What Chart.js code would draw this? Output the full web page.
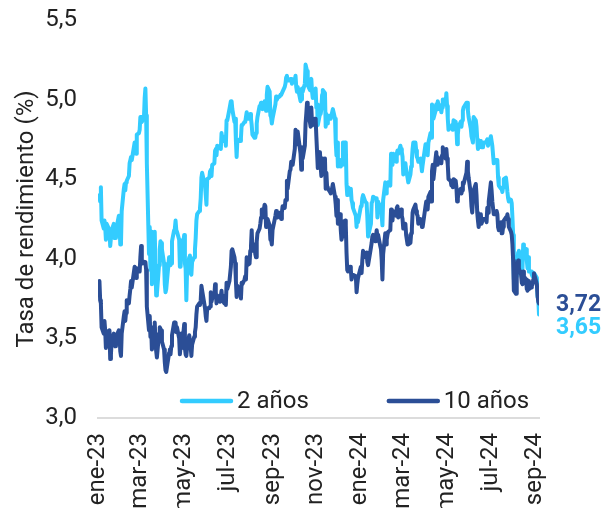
<!DOCTYPE html>
<html lang="es">
<head>
<meta charset="utf-8">
<title>Tasa de rendimiento: bonos a 2 y 10 años</title>
<script src="https://cdn.jsdelivr.net/npm/chart.js@4.4.1/dist/chart.umd.min.js"></script>
<style>
  html, body { margin: 0; padding: 0; background: #ffffff; overflow: hidden; }
  #wrap { width: 604px; height: 508px; position: relative; }
</style>
</head>
<body>
<div id="wrap"><canvas id="chart" width="604" height="508"></canvas></div>
<script>
// Trading days (one row per month)
const dates = [
  '2023-01-03','2023-01-04','2023-01-05','2023-01-06','2023-01-09','2023-01-10','2023-01-11','2023-01-12','2023-01-13','2023-01-17','2023-01-18','2023-01-19','2023-01-20','2023-01-23','2023-01-24','2023-01-25','2023-01-26','2023-01-27','2023-01-30','2023-01-31',
  '2023-02-01','2023-02-02','2023-02-03','2023-02-06','2023-02-07','2023-02-08','2023-02-09','2023-02-10','2023-02-13','2023-02-14','2023-02-15','2023-02-16','2023-02-17','2023-02-21','2023-02-22','2023-02-23','2023-02-24','2023-02-27','2023-02-28',
  '2023-03-01','2023-03-02','2023-03-03','2023-03-06','2023-03-07','2023-03-08','2023-03-09','2023-03-10','2023-03-13','2023-03-14','2023-03-15','2023-03-16','2023-03-17','2023-03-20','2023-03-21','2023-03-22','2023-03-23','2023-03-24','2023-03-27','2023-03-28','2023-03-29','2023-03-30','2023-03-31',
  '2023-04-03','2023-04-04','2023-04-05','2023-04-06','2023-04-10','2023-04-11','2023-04-12','2023-04-13','2023-04-14','2023-04-17','2023-04-18','2023-04-19','2023-04-20','2023-04-21','2023-04-24','2023-04-25','2023-04-26','2023-04-27','2023-04-28',
  '2023-05-01','2023-05-02','2023-05-03','2023-05-04','2023-05-05','2023-05-08','2023-05-09','2023-05-10','2023-05-11','2023-05-12','2023-05-15','2023-05-16','2023-05-17','2023-05-18','2023-05-19','2023-05-22','2023-05-23','2023-05-24','2023-05-25','2023-05-26','2023-05-30','2023-05-31',
  '2023-06-01','2023-06-02','2023-06-05','2023-06-06','2023-06-07','2023-06-08','2023-06-09','2023-06-12','2023-06-13','2023-06-14','2023-06-15','2023-06-16','2023-06-20','2023-06-21','2023-06-22','2023-06-23','2023-06-26','2023-06-27','2023-06-28','2023-06-29','2023-06-30',
  '2023-07-03','2023-07-05','2023-07-06','2023-07-07','2023-07-10','2023-07-11','2023-07-12','2023-07-13','2023-07-14','2023-07-17','2023-07-18','2023-07-19','2023-07-20','2023-07-21','2023-07-24','2023-07-25','2023-07-26','2023-07-27','2023-07-28','2023-07-31',
  '2023-08-01','2023-08-02','2023-08-03','2023-08-04','2023-08-07','2023-08-08','2023-08-09','2023-08-10','2023-08-11','2023-08-14','2023-08-15','2023-08-16','2023-08-17','2023-08-18','2023-08-21','2023-08-22','2023-08-23','2023-08-24','2023-08-25','2023-08-28','2023-08-29','2023-08-30','2023-08-31',
  '2023-09-01','2023-09-05','2023-09-06','2023-09-07','2023-09-08','2023-09-11','2023-09-12','2023-09-13','2023-09-14','2023-09-15','2023-09-18','2023-09-19','2023-09-20','2023-09-21','2023-09-22','2023-09-25','2023-09-26','2023-09-27','2023-09-28','2023-09-29',
  '2023-10-02','2023-10-03','2023-10-04','2023-10-05','2023-10-06','2023-10-10','2023-10-11','2023-10-12','2023-10-13','2023-10-16','2023-10-17','2023-10-18','2023-10-19','2023-10-20','2023-10-23','2023-10-24','2023-10-25','2023-10-26','2023-10-27','2023-10-30','2023-10-31',
  '2023-11-01','2023-11-02','2023-11-03','2023-11-06','2023-11-07','2023-11-08','2023-11-09','2023-11-10','2023-11-13','2023-11-14','2023-11-15','2023-11-16','2023-11-17','2023-11-20','2023-11-21','2023-11-22','2023-11-24','2023-11-27','2023-11-28','2023-11-29','2023-11-30',
  '2023-12-01','2023-12-04','2023-12-05','2023-12-06','2023-12-07','2023-12-08','2023-12-11','2023-12-12','2023-12-13','2023-12-14','2023-12-15','2023-12-18','2023-12-19','2023-12-20','2023-12-21','2023-12-22','2023-12-26','2023-12-27','2023-12-28','2023-12-29',
  '2024-01-02','2024-01-03','2024-01-04','2024-01-05','2024-01-08','2024-01-09','2024-01-10','2024-01-11','2024-01-12','2024-01-16','2024-01-17','2024-01-18','2024-01-19','2024-01-22','2024-01-23','2024-01-24','2024-01-25','2024-01-26','2024-01-29','2024-01-30','2024-01-31',
  '2024-02-01','2024-02-02','2024-02-05','2024-02-06','2024-02-07','2024-02-08','2024-02-09','2024-02-12','2024-02-13','2024-02-14','2024-02-15','2024-02-16','2024-02-20','2024-02-21','2024-02-22','2024-02-23','2024-02-26','2024-02-27','2024-02-28','2024-02-29',
  '2024-03-01','2024-03-04','2024-03-05','2024-03-06','2024-03-07','2024-03-08','2024-03-11','2024-03-12','2024-03-13','2024-03-14','2024-03-15','2024-03-18','2024-03-19','2024-03-20','2024-03-21','2024-03-22','2024-03-25','2024-03-26','2024-03-27','2024-03-28',
  '2024-04-01','2024-04-02','2024-04-03','2024-04-04','2024-04-05','2024-04-08','2024-04-09','2024-04-10','2024-04-11','2024-04-12','2024-04-15','2024-04-16','2024-04-17','2024-04-18','2024-04-19','2024-04-22','2024-04-23','2024-04-24','2024-04-25','2024-04-26','2024-04-29','2024-04-30',
  '2024-05-01','2024-05-02','2024-05-03','2024-05-06','2024-05-07','2024-05-08','2024-05-09','2024-05-10','2024-05-13','2024-05-14','2024-05-15','2024-05-16','2024-05-17','2024-05-20','2024-05-21','2024-05-22','2024-05-23','2024-05-24','2024-05-28','2024-05-29','2024-05-30','2024-05-31',
  '2024-06-03','2024-06-04','2024-06-05','2024-06-06','2024-06-07','2024-06-10','2024-06-11','2024-06-12','2024-06-13','2024-06-14','2024-06-17','2024-06-18','2024-06-20','2024-06-21','2024-06-24','2024-06-25','2024-06-26','2024-06-27','2024-06-28',
  '2024-07-01','2024-07-02','2024-07-03','2024-07-05','2024-07-08','2024-07-09','2024-07-10','2024-07-11','2024-07-12','2024-07-15','2024-07-16','2024-07-17','2024-07-18','2024-07-19','2024-07-22','2024-07-23','2024-07-24','2024-07-25','2024-07-26','2024-07-29','2024-07-30','2024-07-31',
  '2024-08-01','2024-08-02','2024-08-05','2024-08-06','2024-08-07','2024-08-08','2024-08-09','2024-08-12','2024-08-13','2024-08-14','2024-08-15','2024-08-16','2024-08-19','2024-08-20','2024-08-21','2024-08-22','2024-08-23','2024-08-26','2024-08-27','2024-08-28','2024-08-29','2024-08-30',
  '2024-09-03','2024-09-04','2024-09-05','2024-09-06'
];

// 2-year yield (%)
const yield2y = [
  4.40,4.36,4.45,4.24,4.19,4.24,4.20,4.12,4.22,4.18,4.08,4.08,4.18,4.22,4.13,4.13,4.19,4.20,4.27,4.21,
  4.09,4.10,4.30,4.44,4.47,4.43,4.48,4.49,4.52,4.60,4.62,4.64,4.62,4.73,4.69,4.66,4.78,4.79,4.81,
  4.89,4.89,4.86,4.89,5.01,5.07,4.90,4.60,4.03,4.20,3.93,4.17,3.84,3.93,4.17,3.95,3.77,3.78,3.96,4.06,4.11,4.10,4.06,
  3.97,3.84,3.79,3.81,4.01,4.00,3.96,3.97,4.11,4.18,4.19,4.24,4.18,4.17,4.12,3.95,3.95,4.07,4.04,
  4.15,3.97,3.94,3.74,3.92,4.01,4.02,3.91,3.90,3.98,4.01,4.06,4.13,4.24,4.28,4.30,4.32,4.38,4.51,4.54,4.46,4.40,
  4.34,4.50,4.51,4.55,4.56,4.52,4.59,4.60,4.68,4.69,4.65,4.71,4.70,4.69,4.79,4.74,4.74,4.77,4.71,4.87,4.87,
  4.94,4.99,4.99,4.94,4.86,4.88,4.74,4.64,4.74,4.75,4.74,4.76,4.84,4.84,4.86,4.86,4.86,4.92,4.88,4.88,
  4.91,4.88,4.84,4.78,4.76,4.76,4.79,4.85,4.89,4.96,4.96,4.98,4.96,4.94,4.99,4.99,4.93,5.03,5.08,5.05,4.90,4.89,4.85,
  4.88,4.97,5.02,5.00,5.01,5.02,5.03,5.03,5.03,5.05,5.08,5.10,5.14,5.15,5.12,5.12,5.13,5.13,5.10,5.11,
  5.12,5.15,5.08,5.05,5.08,4.99,5.00,5.07,5.05,5.10,5.22,5.20,5.18,5.09,5.06,5.11,5.13,5.05,5.01,5.05,5.07,
  4.95,4.97,4.84,4.91,4.91,4.94,5.03,5.06,5.04,4.83,4.91,4.85,4.89,4.90,4.88,4.90,4.94,4.88,4.73,4.65,4.73,
  4.58,4.62,4.58,4.59,4.59,4.73,4.73,4.72,4.47,4.40,4.45,4.43,4.44,4.37,4.35,4.32,4.27,4.20,4.27,4.23,
  4.33,4.33,4.38,4.40,4.36,4.36,4.35,4.26,4.14,4.22,4.35,4.36,4.39,4.38,4.38,4.38,4.26,4.36,4.31,4.34,4.27,
  4.21,4.37,4.48,4.41,4.44,4.47,4.48,4.46,4.66,4.59,4.59,4.66,4.61,4.66,4.68,4.66,4.71,4.69,4.67,4.64,
  4.53,4.60,4.56,4.56,4.51,4.48,4.53,4.58,4.62,4.69,4.73,4.73,4.68,4.64,4.63,4.61,4.63,4.59,4.55,4.59,
  4.72,4.70,4.68,4.65,4.73,4.79,4.76,4.97,4.96,4.88,4.93,4.97,4.94,4.99,4.97,4.96,4.92,4.95,5.00,5.00,4.97,5.04,
  4.96,4.88,4.81,4.83,4.83,4.84,4.81,4.87,4.86,4.82,4.72,4.78,4.83,4.86,4.83,4.87,4.93,4.95,4.98,4.98,4.93,4.89,
  4.82,4.77,4.75,4.73,4.89,4.87,4.83,4.75,4.69,4.70,4.74,4.70,4.70,4.73,4.73,4.74,4.75,4.71,4.71,
  4.77,4.74,4.71,4.60,4.62,4.62,4.62,4.51,4.46,4.44,4.44,4.42,4.45,4.50,4.51,4.47,4.42,4.38,4.36,4.37,4.35,4.26,
  4.15,3.87,3.89,3.98,3.99,4.04,4.05,4.01,3.93,3.94,4.09,4.07,4.06,3.99,3.94,4.01,3.92,3.92,3.90,3.89,3.89,3.91,
  3.88,3.76,3.75,3.65
];

// 10-year yield (%)
const yield10y = [
  3.86,3.74,3.72,3.57,3.53,3.61,3.55,3.44,3.51,3.55,3.37,3.40,3.48,3.53,3.46,3.45,3.49,3.52,3.55,3.52,
  3.42,3.39,3.53,3.64,3.67,3.61,3.66,3.74,3.72,3.77,3.81,3.86,3.82,3.95,3.92,3.88,3.94,3.92,3.92,
  4.01,4.08,3.97,3.98,3.97,3.98,3.93,3.70,3.55,3.64,3.51,3.57,3.43,3.48,3.60,3.48,3.42,3.38,3.53,3.57,3.56,3.55,3.48,
  3.43,3.35,3.30,3.29,3.41,3.43,3.40,3.45,3.52,3.60,3.59,3.60,3.54,3.57,3.50,3.40,3.45,3.53,3.44,
  3.59,3.44,3.40,3.39,3.44,3.52,3.52,3.45,3.39,3.46,3.51,3.54,3.57,3.65,3.70,3.72,3.71,3.74,3.83,3.80,3.69,3.64,
  3.61,3.69,3.69,3.70,3.79,3.73,3.75,3.77,3.84,3.79,3.72,3.77,3.73,3.73,3.80,3.74,3.72,3.77,3.71,3.85,3.81,
  3.86,3.95,4.05,4.06,4.01,3.97,3.86,3.76,3.83,3.81,3.80,3.75,3.85,3.84,3.87,3.89,3.87,4.01,3.96,3.97,
  4.05,4.08,4.18,4.05,4.09,4.03,4.01,4.11,4.16,4.19,4.22,4.26,4.31,4.26,4.34,4.33,4.20,4.23,4.25,4.21,4.12,4.12,4.09,
  4.18,4.27,4.30,4.27,4.26,4.29,4.29,4.25,4.29,4.33,4.32,4.37,4.37,4.49,4.44,4.55,4.56,4.61,4.59,4.59,
  4.69,4.81,4.73,4.72,4.80,4.66,4.56,4.70,4.63,4.71,4.85,4.91,4.98,4.93,4.86,4.83,4.95,4.85,4.84,4.88,4.88,
  4.77,4.67,4.57,4.67,4.58,4.52,4.63,4.61,4.63,4.44,4.54,4.45,4.44,4.42,4.41,4.42,4.47,4.39,4.34,4.27,4.37,
  4.22,4.28,4.18,4.12,4.14,4.23,4.24,4.21,4.04,3.93,3.92,3.95,3.93,3.87,3.89,3.90,3.89,3.79,3.84,3.88,
  3.95,3.91,3.99,4.05,4.01,4.02,4.04,3.98,3.96,4.07,4.10,4.14,4.15,4.11,4.14,4.18,4.14,4.15,4.08,4.06,3.99,
  3.87,4.03,4.16,4.09,4.12,4.15,4.17,4.18,4.31,4.27,4.24,4.30,4.27,4.32,4.33,4.26,4.28,4.31,4.27,4.25,
  4.19,4.22,4.15,4.12,4.09,4.09,4.10,4.16,4.19,4.29,4.31,4.34,4.30,4.28,4.27,4.22,4.25,4.24,4.20,4.20,
  4.33,4.36,4.36,4.31,4.39,4.42,4.36,4.55,4.59,4.50,4.63,4.67,4.59,4.64,4.62,4.62,4.60,4.65,4.70,4.67,4.63,4.69,
  4.63,4.59,4.50,4.49,4.46,4.49,4.45,4.50,4.49,4.45,4.36,4.38,4.42,4.44,4.41,4.43,4.48,4.47,4.54,4.61,4.55,4.51,
  4.41,4.33,4.29,4.29,4.43,4.47,4.40,4.29,4.24,4.20,4.28,4.22,4.25,4.25,4.25,4.23,4.32,4.29,4.36,
  4.48,4.43,4.36,4.28,4.28,4.30,4.28,4.20,4.18,4.23,4.16,4.16,4.20,4.24,4.26,4.25,4.28,4.25,4.20,4.17,4.15,4.09,
  3.99,3.80,3.78,3.90,3.96,3.99,3.94,3.90,3.85,3.84,3.92,3.89,3.87,3.81,3.80,3.86,3.81,3.82,3.83,3.84,3.87,3.91,
  3.84,3.77,3.73,3.72
];

const seriesNames = ['2 años', '10 años'];
const tickDates  = ['2023-01-01','2023-03-01','2023-05-01','2023-07-01','2023-09-01','2023-11-01',
                    '2024-01-01','2024-03-01','2024-05-01','2024-07-01','2024-09-01'];
const tickLabels = ['ene-23','mar-23','may-23','jul-23','sep-23','nov-23',
                    'ene-24','mar-24','may-24','jul-24','sep-24'];

const LIGHT = '#33CCFF';
const DARK  = '#2B4E96';
const TEXT  = '#222222';
const FONT  = 'Roboto, "Liberation Sans", Arial, sans-serif';

// Calendar day offset from 1 Jan 2023, used as the x value
const ORIGIN = Date.UTC(2023, 0, 1);
function dayIndex(iso) {
  const [y, m, d] = iso.split('-').map(Number);
  return Math.round((Date.UTC(y, m - 1, d) - ORIGIN) / 86400000);
}
const xDays = dates.map(dayIndex);
const asPoints = vals => vals.map((v, i) => ({ x: xDays[i], y: v }));
const fmt = v => v.toFixed(2).replace('.', ',');

// Legend drawn inside the plot, along its bottom edge
const insideLegend = {
  id: 'insideLegend',
  afterDatasetsDraw(chart) {
    const { ctx, chartArea } = chart;
    const y = chartArea.bottom - 17;
    let x = chartArea.left + 84;
    ctx.save();
    ctx.font = '24px ' + FONT;
    ctx.textBaseline = 'middle';
    ctx.textAlign = 'left';
    chart.data.datasets.forEach((ds) => {
      ctx.strokeStyle = ds.borderColor;
      ctx.lineWidth = 4.5;
      ctx.lineCap = 'round';
      ctx.beginPath();
      ctx.moveTo(x, y);
      ctx.lineTo(x + 49, y);
      ctx.stroke();
      ctx.fillStyle = TEXT;
      ctx.fillText(ds.label, x + 55, y + 1);
      x += 55 + ctx.measureText(ds.label).width + 80;
    });
    ctx.restore();
  }
};

// Last value of each series, written to the right of the plot
const endLabels = {
  id: 'endLabels',
  afterDatasetsDraw(chart) {
    const { ctx, chartArea, scales } = chart;
    const x = chartArea.right + 17;
    const v10 = yield10y[yield10y.length - 1];
    const v2 = yield2y[yield2y.length - 1];
    const y10 = scales.y.getPixelForValue(v10) + 2;
    const y2 = Math.max(scales.y.getPixelForValue(v2), y10 + 23);
    ctx.save();
    ctx.font = 'bold 23px ' + FONT;
    ctx.textBaseline = 'middle';
    ctx.textAlign = 'left';
    ctx.fillStyle = DARK;
    ctx.fillText(fmt(v10), x, y10);
    ctx.fillStyle = LIGHT;
    ctx.fillText(fmt(v2), x, y2);
    ctx.restore();
  }
};

Chart.defaults.font.family = FONT;
Chart.defaults.font.size = 24;
Chart.defaults.color = TEXT;

new Chart(document.getElementById('chart'), {
  type: 'line',
  data: {
    datasets: [
      { label: seriesNames[0], data: asPoints(yield2y), borderColor: LIGHT, backgroundColor: LIGHT,
        borderWidth: 4, pointRadius: 0, tension: 0, borderJoinStyle: 'round', borderCapStyle: 'round', order: 1 },
      { label: seriesNames[1], data: asPoints(yield10y), borderColor: DARK, backgroundColor: DARK,
        borderWidth: 4, pointRadius: 0, tension: 0, borderJoinStyle: 'round', borderCapStyle: 'round', order: 0 }
    ]
  },
  options: {
    responsive: false,
    animation: false,
    devicePixelRatio: 1,
    layout: { padding: { top: 20, right: 65, bottom: 0, left: 0 } },
    plugins: { legend: { display: false }, tooltip: { enabled: false } },
    scales: {
      x: {
        type: 'linear',
        min: 0,
        max: dayIndex(dates[dates.length - 1]),
        grid: { display: false, drawTicks: false },
        border: { display: true, color: '#dcdcdc', width: 2 },
        afterBuildTicks(scale) { scale.ticks = tickDates.map(d => ({ value: dayIndex(d) })); },
        afterFit(scale) { scale.height = 90; },
        ticks: {
          autoSkip: false, minRotation: 90, maxRotation: 90, padding: 15,
          font: { size: 24 }, color: TEXT,
          callback: (value, index) => tickLabels[index]
        }
      },
      y: {
        min: 3, max: 5.5,
        grid: { display: false, drawTicks: false },
        border: { display: false },
        afterFit(scale) {
          scale.width = 98;
          // the top tick label fits inside the 20px layout padding
          scale.paddingTop = 0;
          scale.paddingBottom = 0;
        },
        ticks: {
          stepSize: 0.5, padding: 21, font: { size: 24 }, color: TEXT,
          callback: v => v.toFixed(1).replace('.', ',')
        },
        title: {
          display: true, text: 'Tasa de rendimiento (%)', color: TEXT,
          font: { size: 24 }, padding: { top: 13, bottom: 0 }
        }
      }
    }
  },
  plugins: [insideLegend, endLabels]
});
</script>
</body>
</html>
